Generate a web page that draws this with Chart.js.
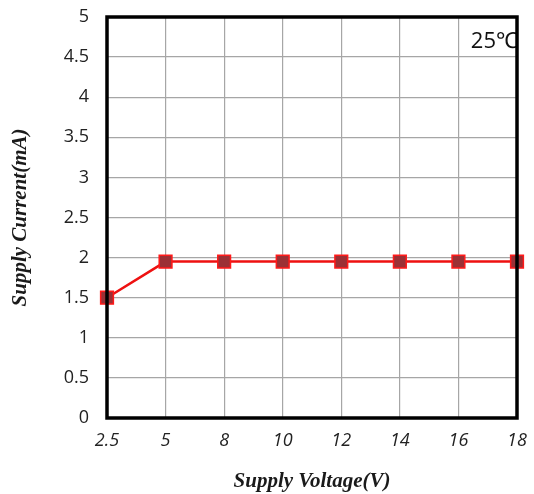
<!DOCTYPE html>
<html lang="en">
<head>
    <meta charset="UTF-8">
    <title>Supply Current vs Supply Voltage</title>
    <script src="https://cdn.jsdelivr.net/npm/chart.js"></script>
    <style>
        html, body { margin: 0; padding: 0; background: #fff; }
        .grafica { width: 534px; height: 494px; }
    </style>
</head>
<body>
    <div class="grafica">
        <canvas id="myChart"></canvas>
    </div>
    <script>
        // data
        const voltages = ["2.5", "5", "8", "10", "12", "14", "16", "18"];
        const currents = [1.5, 1.95, 1.95, 1.95, 1.95, 1.95, 1.95, 1.95];
        const yTicks = [0, 0.5, 1, 1.5, 2, 2.5, 3, 3.5, 4, 4.5, 5];
        const tempLabel = "25℃";

        // thick black frame + temperature note
        const frame = {
            id: "frame",
            afterDatasetsDraw(chart) {
                const { ctx, chartArea: a } = chart;
                ctx.save();
                ctx.fillStyle = "#111";
                ctx.font = "22px 'Open Sans'";
                ctx.textAlign = "right";
                ctx.textBaseline = "alphabetic";
                ctx.fillText(tempLabel, a.right + 1, a.top + 31);
                ctx.strokeStyle = "#000";
                ctx.lineWidth = 3.5;
                ctx.strokeRect(a.left, a.top, a.right - a.left, a.bottom - a.top);
                ctx.restore();
            }
        };

        const config = {
            type: "line",
            data: {
                labels: voltages,
                datasets: [{
                    label: "Supply Current",
                    data: currents,
                    borderColor: "#ee1111",
                    borderWidth: 2.5,
                    pointStyle: "rect",
                    pointRadius: 9,
                    pointBackgroundColor: "#9b3035",
                    pointBorderColor: "#ff1a1a",
                    pointBorderWidth: 1.5,
                    clip: false,
                    tension: 0
                }]
            },
            options: {
                responsive: true,
                maintainAspectRatio: false,
                animation: false,
                layout: { padding: { top: 17, right: 17, left: 0, bottom: 0 } },
                plugins: { legend: { display: false }, tooltip: { enabled: false } },
                scales: {
                    x: {
                        type: "category",
                        offset: false,
                        grid: { color: "#a6a6a6", lineWidth: 1.2, drawTicks: false },
                        border: { display: false },
                        ticks: {
                            padding: 12,
                            color: "#222",
                            font: { family: "'Open Sans'", size: 18, style: "italic" },
                            maxRotation: 0
                        },
                        title: {
                            display: true,
                            text: "Supply Voltage(V)",
                            color: "#1a1a1a",
                            font: { family: "'Liberation Serif'", size: 21, style: "italic", weight: "bold" },
                            padding: { top: 6, bottom: 0 }
                        },
                        afterFit(scale) {
                            scale.height = 76;
                            scale.paddingLeft = 0;
                            scale.paddingRight = 0;
                        }
                    },
                    y: {
                        min: 0,
                        max: 5,
                        afterBuildTicks(scale) {
                            scale.ticks = yTicks.map(v => ({ value: v }));
                        },
                        grid: { color: "#a6a6a6", lineWidth: 1.2, drawTicks: false },
                        border: { display: false },
                        ticks: {
                            padding: 18,
                            color: "#222",
                            font: { family: "'Open Sans'", size: 18 },
                            callback: v => String(v)
                        },
                        title: {
                            display: true,
                            text: "Supply Current(mA)",
                            color: "#1a1a1a",
                            font: { family: "'Liberation Serif'", size: 21, style: "italic", weight: "bold" },
                            padding: { top: 8, bottom: 0 }
                        },
                        afterFit(scale) {
                            scale.width = 107;
                            scale.paddingTop = 0;
                            scale.paddingBottom = 0;
                        }
                    }
                }
            },
            plugins: [frame]
        };

        new Chart(document.getElementById("myChart"), config);
    </script>
</body>
</html>
